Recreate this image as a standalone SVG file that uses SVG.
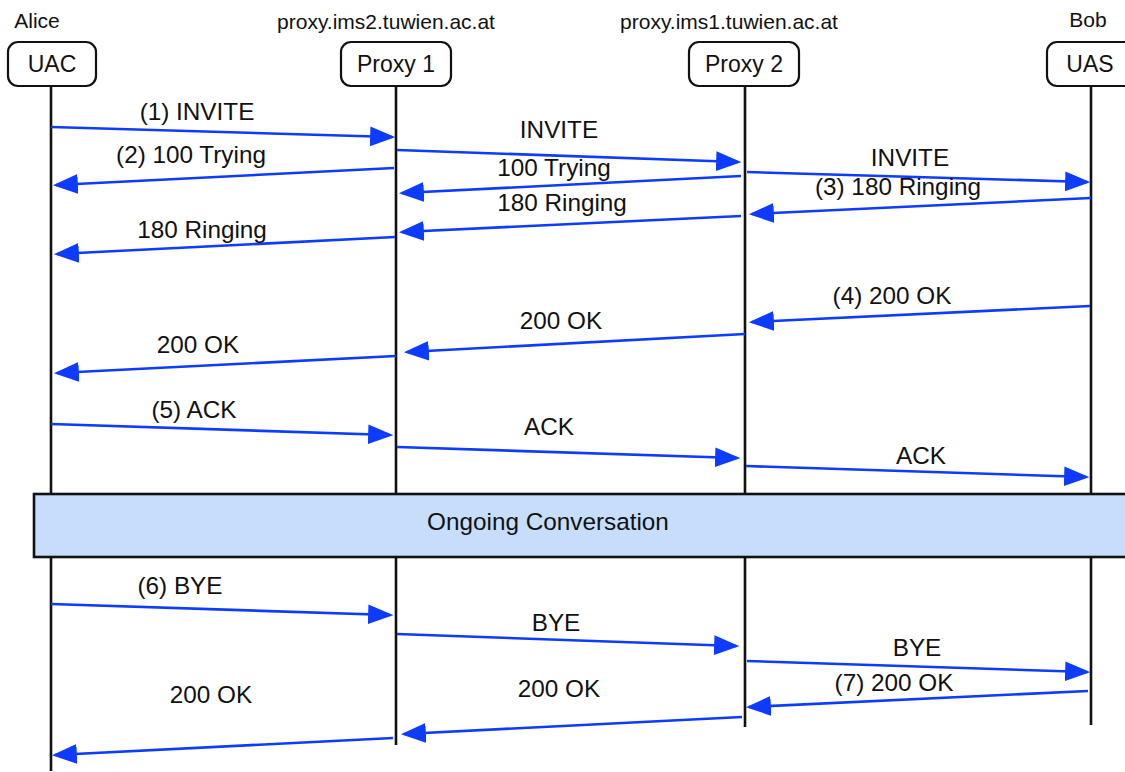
<svg xmlns="http://www.w3.org/2000/svg" width="1125" height="772" viewBox="0 0 1125 772">
  <style>
    text { font-family: "Liberation Sans", Arial, Helvetica, sans-serif; fill: #111; text-anchor: middle; }
    .host { font-size: 21px; }
    .head { font-size: 23px; }
    .msg { font-size: 24.3px; }
    .box { fill: #fff; stroke: #111; stroke-width: 2.2; }
    .life { stroke: #111; stroke-width: 2.6; fill: none; }
    .arrow { stroke: #0d3bff; stroke-width: 2.6; fill: none; marker-end: url(#head); }
    .band { fill: #c6ddfb; stroke: #111; stroke-width: 2.6; }
  </style>
  <defs>
    <marker id="head" markerUnits="userSpaceOnUse" markerWidth="25" markerHeight="20" viewBox="0 0 24 19" refX="21" refY="9.5" orient="auto">
      <path d="M0,0 L24,9.5 L0,19 z" fill="#0d3bff"/>
    </marker>
  </defs>

  <rect width="1125" height="772" fill="#fff"/>

  <!-- participants: head box, caption and lifeline -->
  <g id="uac">
    <text class="host" x="37" y="28">Alice</text>
    <line class="life" x1="51" y1="86" x2="51" y2="771"/>
    <rect class="box" x="8" y="42" width="88" height="44" rx="10"/>
    <text class="head" x="52" y="72">UAC</text>
  </g>
  <g id="proxy1">
    <text class="host" x="386" y="29">proxy.ims2.tuwien.ac.at</text>
    <line class="life" x1="396" y1="86" x2="396" y2="745"/>
    <rect class="box" x="341" y="42" width="110" height="44" rx="10"/>
    <text class="head" x="396" y="72">Proxy 1</text>
  </g>
  <g id="proxy2">
    <text class="host" x="729" y="29">proxy.ims1.tuwien.ac.at</text>
    <line class="life" x1="745" y1="86" x2="745" y2="727"/>
    <rect class="box" x="689" y="42" width="110" height="44" rx="10"/>
    <text class="head" x="744" y="72">Proxy 2</text>
  </g>
  <g id="uas">
    <text class="host" x="1088" y="27">Bob</text>
    <line class="life" x1="1091" y1="86" x2="1091" y2="725"/>
    <rect class="box" x="1047" y="42" width="88" height="44" rx="10"/>
    <text class="head" x="1090" y="72">UAS</text>
  </g>

  <!-- call in progress band across all lifelines -->
  <g id="conversation">
    <rect class="band" x="34" y="494" width="1100" height="63"/>
    <text class="msg" x="548" y="530">Ongoing Conversation</text>
  </g>

  <!-- SIP messages -->
  <g id="connectors">
    <line class="arrow" x1="51" y1="127" x2="392" y2="137"/>
    <line class="arrow" x1="394" y1="168" x2="56" y2="185"/>
    <line class="arrow" x1="397" y1="150" x2="738" y2="162"/>
    <line class="arrow" x1="741" y1="176" x2="402" y2="193"/>
    <line class="arrow" x1="747" y1="172" x2="1087" y2="182"/>
    <line class="arrow" x1="1091" y1="198" x2="752" y2="214"/>
    <line class="arrow" x1="741" y1="216" x2="402" y2="232"/>
    <line class="arrow" x1="395" y1="237" x2="57" y2="254"/>
    <line class="arrow" x1="1090" y1="306" x2="752" y2="322"/>
    <line class="arrow" x1="745" y1="334" x2="407" y2="352"/>
    <line class="arrow" x1="396" y1="356" x2="57" y2="373"/>
    <line class="arrow" x1="51" y1="424" x2="390" y2="435"/>
    <line class="arrow" x1="397" y1="447" x2="737" y2="458"/>
    <line class="arrow" x1="746" y1="466" x2="1086" y2="477"/>
    <line class="arrow" x1="51" y1="604" x2="390" y2="615"/>
    <line class="arrow" x1="397" y1="634" x2="736" y2="646"/>
    <line class="arrow" x1="747" y1="661" x2="1087" y2="672"/>
    <line class="arrow" x1="1088" y1="691" x2="749" y2="707"/>
    <line class="arrow" x1="742" y1="717" x2="404" y2="734"/>
    <line class="arrow" x1="393" y1="738" x2="55" y2="755"/>

    <text class="msg" x="197" y="120">(1) INVITE</text>
    <text class="msg" x="191" y="163">(2) 100 Trying</text>
    <text class="msg" x="559" y="138">INVITE</text>
    <text class="msg" x="554" y="176">100 Trying</text>
    <text class="msg" x="910" y="166">INVITE</text>
    <text class="msg" x="898" y="195">(3) 180 Ringing</text>
    <text class="msg" x="562" y="211">180 Ringing</text>
    <text class="msg" x="202" y="238">180 Ringing</text>
    <text class="msg" x="892" y="304">(4) 200 OK</text>
    <text class="msg" x="561" y="329">200 OK</text>
    <text class="msg" x="198" y="353">200 OK</text>
    <text class="msg" x="194" y="418">(5) ACK</text>
    <text class="msg" x="549" y="435">ACK</text>
    <text class="msg" x="921" y="464">ACK</text>
    <text class="msg" x="180" y="594">(6) BYE</text>
    <text class="msg" x="556" y="631">BYE</text>
    <text class="msg" x="917" y="656">BYE</text>
    <text class="msg" x="894" y="691">(7) 200 OK</text>
    <text class="msg" x="559" y="697">200 OK</text>
    <text class="msg" x="211" y="703">200 OK</text>
  </g>
</svg>
